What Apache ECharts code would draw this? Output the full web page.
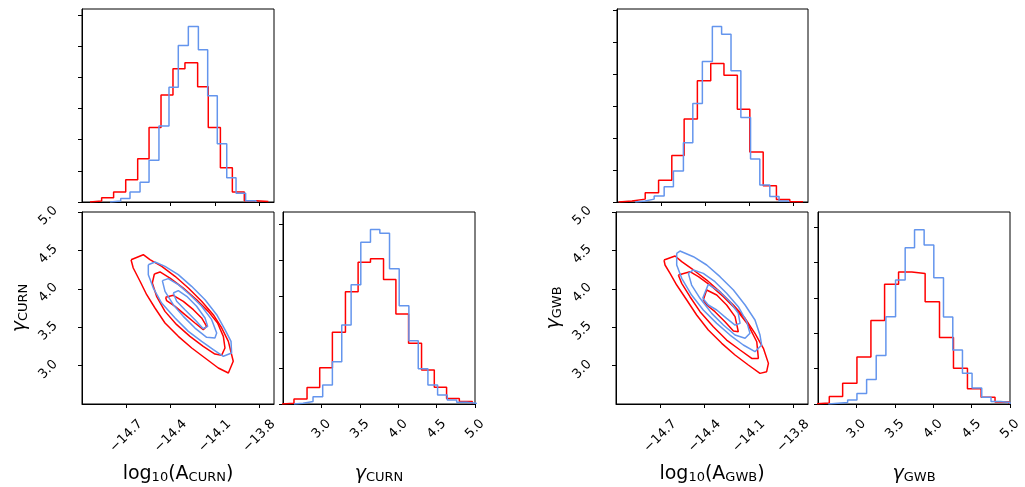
<!DOCTYPE html>
<html><head><meta charset="utf-8">
<script src="https://cdn.jsdelivr.net/npm/echarts@6/dist/echarts.min.js"></script>
<style>html,body{margin:0;padding:0;background:#fff}#c{width:1025px;height:487px}</style>
</head><body><div id="c"></div>
<script>
// ---------- tick values ----------
const logTicks = [-14.7, -14.4, -14.1, -13.8];
const gamTicks = [3.0, 3.5, 4.0, 4.5, 5.0];
const histTicks6 = [0, 1, 2, 3, 4, 5, 6];
const histTicks5 = [0, 1, 2, 3, 4, 5];

// ---------- CURN (left corner) histograms ----------
const curnA_redEdges = [-14.946,-14.867,-14.786,-14.704,-14.623,-14.546,-14.465,-14.384,-14.303,-14.217,-14.145,-14.063,-13.982,-13.901,-13.822,-13.738];
const curnA_redH     = [0.03,0.14,0.32,0.71,1.39,2.39,3.43,4.27,4.47,3.70,2.39,1.10,0.32,0.04,0.02];
const curnA_blueEdges= [-14.810,-14.738,-14.675,-14.607,-14.546,-14.479,-14.411,-14.348,-14.280,-14.212,-14.149,-14.084,-14.020,-13.957,-13.892,-13.822];
const curnA_blueH    = [0.03,0.11,0.32,0.63,1.34,2.44,3.68,5.02,5.63,4.88,3.41,1.87,0.78,0.28,0.04];

const curnG_redEdges = [2.478,2.643,2.813,2.978,3.143,3.313,3.478,3.639,3.809,3.970,4.135,4.304,4.470,4.630,4.796,4.965];
const curnG_redH     = [0.02,0.14,0.46,1.01,2.00,3.13,3.95,4.05,3.47,2.51,1.69,0.95,0.47,0.15,0.07];
const curnG_blueEdges= [2.643,2.761,2.891,3.017,3.143,3.265,3.387,3.513,3.639,3.761,3.887,4.013,4.139,4.261,4.387,4.513,4.639,4.761,4.891,5.017];
const curnG_blueH    = [0.02,0.07,0.20,0.53,1.18,2.20,3.32,4.51,4.86,4.76,3.77,2.74,1.76,0.98,0.53,0.25,0.11,0.05,0.02];

// ---------- GWB (right corner) histograms ----------
const gwbA_redEdges = [-14.989,-14.898,-14.808,-14.717,-14.627,-14.543,-14.453,-14.362,-14.272,-14.181,-14.096,-14.005,-13.915,-13.824,-13.734];
const gwbA_redH     = [0.03,0.09,0.29,0.68,1.45,2.59,3.79,4.33,3.96,2.90,1.56,0.51,0.08,0.01];
const gwbA_blueEdges= [-14.876,-14.808,-14.747,-14.679,-14.616,-14.548,-14.484,-14.419,-14.351,-14.288,-14.224,-14.157,-14.091,-14.028,-13.960,-13.897,-13.831];
const gwbA_blueH    = [0.03,0.09,0.19,0.48,0.97,1.85,3.08,4.39,5.48,5.24,4.10,2.64,1.34,0.53,0.17,0.03];

const gwbG_redEdges = [2.465,2.647,2.821,3.007,3.189,3.367,3.549,3.722,3.895,4.082,4.264,4.446,4.624,4.805,4.987];
const gwbG_redH     = [0.03,0.21,0.59,1.33,2.36,3.39,3.73,3.69,2.89,1.88,1.01,0.43,0.19,0.06];
const gwbG_blueEdges= [2.634,2.760,2.886,3.007,3.133,3.258,3.384,3.510,3.635,3.757,3.882,4.008,4.134,4.255,4.381,4.506,4.632,4.753,4.879,5.000];
const gwbG_blueH    = [0.02,0.04,0.11,0.30,0.69,1.37,2.47,3.51,4.42,4.93,4.50,3.57,2.46,1.53,0.87,0.45,0.19,0.07,0.04];

// ---------- CURN contours [log10A, gamma] ----------
const curnRed1 = [[-14.668,4.379],[-14.585,4.444],[-14.540,4.379],[-14.460,4.293],[-14.370,4.163],[-14.280,4.010],[-14.190,3.837],[-14.111,3.663],[-14.054,3.490],[-14.009,3.316],[-13.976,3.056],[-14.009,2.904],[-14.077,2.969],[-14.167,3.099],[-14.257,3.229],[-14.348,3.381],[-14.438,3.555],[-14.506,3.750],[-14.562,3.923],[-14.607,4.098],[-14.653,4.271]];
const curnRed2 = [[-14.510,4.193],[-14.472,4.219],[-14.404,4.140],[-14.314,4.010],[-14.224,3.858],[-14.145,3.706],[-14.082,3.555],[-14.043,3.381],[-14.032,3.229],[-14.055,3.134],[-14.100,3.151],[-14.179,3.251],[-14.269,3.381],[-14.359,3.533],[-14.438,3.706],[-14.495,3.902],[-14.524,4.075]];
const curnRed3 = [[-14.434,3.889],[-14.382,3.915],[-14.314,3.837],[-14.246,3.728],[-14.190,3.620],[-14.156,3.511],[-14.179,3.468],[-14.235,3.555],[-14.303,3.663],[-14.370,3.772],[-14.427,3.845]];
const curnBlue1 = [[-14.551,4.314],[-14.506,4.349],[-14.438,4.292],[-14.348,4.184],[-14.258,4.032],[-14.167,3.858],[-14.088,3.663],[-14.032,3.468],[-13.991,3.316],[-13.987,3.164],[-14.043,3.121],[-14.111,3.207],[-14.190,3.316],[-14.280,3.446],[-14.370,3.620],[-14.461,3.815],[-14.517,4.010],[-14.551,4.184]];
const curnBlue2 = [[-14.456,4.106],[-14.416,4.132],[-14.348,4.054],[-14.269,3.923],[-14.190,3.772],[-14.122,3.598],[-14.088,3.424],[-14.100,3.359],[-14.156,3.368],[-14.235,3.489],[-14.314,3.641],[-14.382,3.793],[-14.438,3.967]];
const curnBlue3 = [[-14.382,3.945],[-14.348,3.976],[-14.291,3.902],[-14.224,3.772],[-14.167,3.620],[-14.149,3.511],[-14.179,3.481],[-14.235,3.598],[-14.303,3.728],[-14.359,3.837]];

// ---------- GWB contours ----------
const gwbRed1 = [[-14.675,4.375],[-14.600,4.427],[-14.555,4.353],[-14.476,4.245],[-14.386,4.114],[-14.296,3.962],[-14.205,3.789],[-14.126,3.615],[-14.059,3.420],[-14.002,3.225],[-13.968,3.029],[-13.980,2.921],[-14.025,2.899],[-14.104,3.008],[-14.194,3.138],[-14.284,3.290],[-14.375,3.463],[-14.454,3.659],[-14.521,3.854],[-14.589,4.049],[-14.634,4.201],[-14.668,4.310]];
const gwbRed2 = [[-14.578,4.179],[-14.499,4.223],[-14.442,4.158],[-14.363,4.049],[-14.273,3.897],[-14.183,3.724],[-14.104,3.528],[-14.047,3.311],[-14.036,3.094],[-14.081,3.094],[-14.160,3.203],[-14.251,3.333],[-14.341,3.507],[-14.431,3.702],[-14.499,3.897],[-14.555,4.071]];
const gwbRed3 = [[-14.409,3.854],[-14.386,3.984],[-14.318,3.919],[-14.251,3.789],[-14.194,3.637],[-14.172,3.442],[-14.205,3.450],[-14.262,3.572],[-14.330,3.702],[-14.386,3.789]];
const gwbBlue1 = [[-14.589,4.462],[-14.567,4.492],[-14.476,4.418],[-14.386,4.310],[-14.296,4.158],[-14.205,3.984],[-14.126,3.789],[-14.059,3.594],[-14.025,3.398],[-14.014,3.268],[-14.059,3.181],[-14.138,3.268],[-14.228,3.398],[-14.318,3.550],[-14.409,3.724],[-14.488,3.919],[-14.555,4.136],[-14.589,4.310]];
const gwbBlue2 = [[-14.510,4.201],[-14.476,4.245],[-14.409,4.201],[-14.330,4.093],[-14.251,3.941],[-14.172,3.767],[-14.115,3.572],[-14.093,3.420],[-14.126,3.355],[-14.194,3.398],[-14.273,3.528],[-14.352,3.680],[-14.431,3.876],[-14.488,4.049]];
const gwbBlue3 = [[-14.413,3.876],[-14.375,4.058],[-14.296,3.962],[-14.228,3.832],[-14.172,3.680],[-14.160,3.550],[-14.194,3.528],[-14.251,3.615],[-14.318,3.724],[-14.375,3.789]];

// ---------- axis ranges ----------
const logRange = [-15.0, -13.7];
const gamRange = [2.5, 5.0];
const histMax = [6.19, 5.35, 6.03, 5.43];

// ---------- build ----------
const RED = '#ff0000', BLUE = '#6495ED';
const FONT = 'DejaVu Sans';
function stepPts(edges, h) {
  const p = [[edges[0], 0]];
  for (let i = 0; i < h.length; i++) { p.push([edges[i], h[i]]); p.push([edges[i+1], h[i]]); }
  p.push([edges[edges.length-1], 0]);
  return p;
}
function closed(pts) { return pts.concat([pts[0]]); }
const fmt = v => (Math.round(v*10)/10).toFixed(1).replace('-', '\u2212');

const grids = [
  {left: 82, top: 9, width: 192, height: 193},
  {left: 82, top: 212, width: 192, height: 192},
  {left: 283, top: 212, width: 192, height: 192},
  {left: 617, top: 9, width: 191, height: 193},
  {left: 616, top: 212, width: 192, height: 192},
  {left: 818, top: 212, width: 192, height: 192}
].map(g => Object.assign(g, {show: true, borderColor: '#000', borderWidth: 1, backgroundColor: 'transparent'}));

const rich = {
  n: {fontSize: 19, fontFamily: FONT, color: '#000', lineHeight: 22, verticalAlign: 'bottom'},
  g: {fontSize: 19, fontFamily: FONT, fontStyle: 'italic', color: '#000', lineHeight: 22, verticalAlign: 'bottom'},
  s: {fontSize: 13, fontFamily: FONT, color: '#000', lineHeight: 13, verticalAlign: 'bottom'}
};

function xAx(gi, range, ticks, labels, margin, name) {
  return {
    type: 'value', gridIndex: gi, min: range[0], max: range[1],
    axisLine: {show: true, onZero: false, lineStyle: {color: '#000', width: 1}},
    axisTick: {show: true, length: 4, customValues: ticks, lineStyle: {color: '#000', width: 1}},
    axisLabel: {show: labels, customValues: ticks, rotate: 45, align: 'center', verticalAlign: 'middle',
      margin: margin, formatter: fmt, fontSize: 13, fontFamily: FONT, color: '#000'},
    splitLine: {show: false},
    name: name || '', nameLocation: 'middle', nameGap: 58, nameTextStyle: {rich: rich}
  };
}
function yAx(gi, range, ticks, labels, name) {
  return {
    type: 'value', gridIndex: gi, min: range[0], max: range[1],
    axisLine: {show: true, onZero: false, lineStyle: {color: '#000', width: 1}},
    axisTick: {show: true, length: 4, customValues: ticks, lineStyle: {color: '#000', width: 1}},
    axisLabel: {show: labels, customValues: ticks, rotate: 45, align: 'center', verticalAlign: 'middle',
      margin: 30, padding: [11, 11, 0, 0], formatter: fmt, fontSize: 13, fontFamily: FONT, color: '#000'},
    splitLine: {show: false},
    name: name || '', nameLocation: 'middle', nameGap: 52, nameRotate: 90, nameTextStyle: {rich: rich}
  };
}

const xAxes = [
  xAx(0, logRange, logTicks, false, 0),
  xAx(1, logRange, logTicks, true, 32, '{n|log}{s|10}{n|(A}{s|CURN}{n|)}'),
  xAx(2, gamRange, gamTicks, true, 25, '{g|γ}{s|CURN}'),
  xAx(3, logRange, logTicks, false, 0),
  xAx(4, logRange, logTicks, true, 32, '{n|log}{s|10}{n|(A}{s|GWB}{n|)}'),
  xAx(5, gamRange, gamTicks, true, 25, '{g|γ}{s|GWB}')
];
const yAxes = [
  yAx(0, [0, histMax[0]], histTicks6, false),
  yAx(1, gamRange, gamTicks, true, '{g|γ}{s|CURN}'),
  yAx(2, [0, histMax[1]], histTicks5, false),
  yAx(3, [0, histMax[2]], histTicks6, false),
  yAx(4, gamRange, gamTicks, true, '{g|γ}{s|GWB}'),
  yAx(5, [0, histMax[3]], histTicks5, false)
];

function line(gi, data, color) {
  return {type: 'line', xAxisIndex: gi, yAxisIndex: gi, data: data, showSymbol: false, symbol: 'none',
    lineStyle: {color: color, width: 1.5}, itemStyle: {color: color}, clip: true, silent: true, animation: false};
}

const series = [
  line(0, stepPts(curnA_redEdges, curnA_redH), RED),
  line(0, stepPts(curnA_blueEdges, curnA_blueH), BLUE),
  line(1, closed(curnRed1), RED), line(1, closed(curnRed2), RED), line(1, closed(curnRed3), RED),
  line(1, closed(curnBlue1), BLUE), line(1, closed(curnBlue2), BLUE), line(1, closed(curnBlue3), BLUE),
  line(2, stepPts(curnG_redEdges, curnG_redH), RED),
  line(2, stepPts(curnG_blueEdges, curnG_blueH), BLUE),
  line(3, stepPts(gwbA_redEdges, gwbA_redH), RED),
  line(3, stepPts(gwbA_blueEdges, gwbA_blueH), BLUE),
  line(4, closed(gwbRed1), RED), line(4, closed(gwbRed2), RED), line(4, closed(gwbRed3), RED),
  line(4, closed(gwbBlue1), BLUE), line(4, closed(gwbBlue2), BLUE), line(4, closed(gwbBlue3), BLUE),
  line(5, stepPts(gwbG_redEdges, gwbG_redH), RED),
  line(5, stepPts(gwbG_blueEdges, gwbG_blueH), BLUE)
];

const chart = echarts.init(document.getElementById('c'), null, {renderer: 'canvas'});
chart.setOption({animation: false, backgroundColor: '#fff', grid: grids, xAxis: xAxes, yAxis: yAxes, series: series});
</script>
</body></html>
